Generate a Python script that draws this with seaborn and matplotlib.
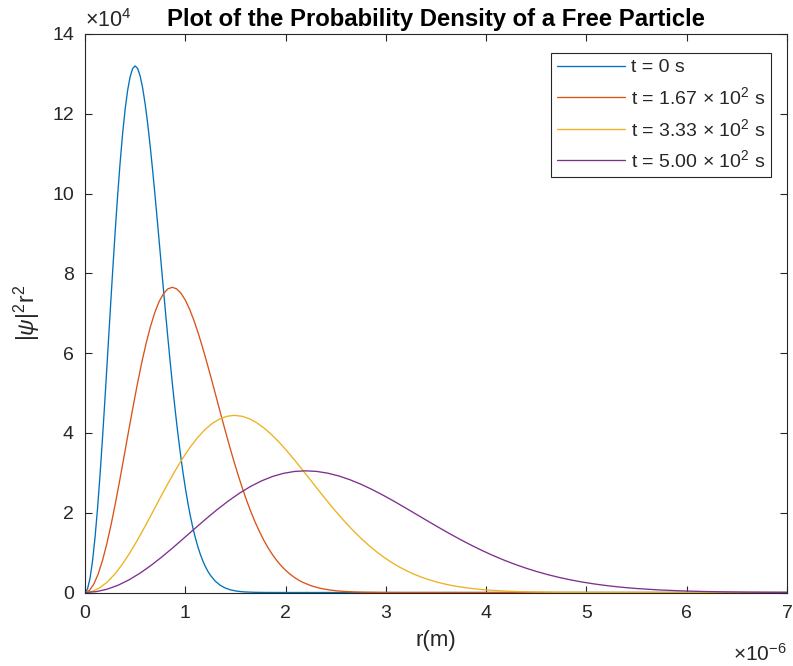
import matplotlib
matplotlib.use("Agg")
import matplotlib.pyplot as plt
import pandas as pd
import seaborn as sns

# Radial position r (units of 1e-6 m) and |psi|^2 r^2 (units of 1e4) at each time
r_t0 = [0.0, 0.025, 0.05, 0.075, 0.1, 0.125, 0.15, 0.175, 0.2, 0.225, 0.25,
        0.275, 0.3, 0.325, 0.35, 0.375, 0.4, 0.425, 0.45, 0.475, 0.5, 0.525,
        0.55, 0.575, 0.6, 0.625, 0.65, 0.675, 0.7, 0.725, 0.75, 0.775, 0.8,
        0.825, 0.85, 0.875, 0.9, 0.925, 0.95, 0.975, 1.0, 1.025, 1.05, 1.075,
        1.1, 1.125, 1.15, 1.175, 1.2, 1.225, 1.25, 1.3, 1.35, 1.4, 1.45, 1.5,
        1.55, 1.6, 1.7, 1.8, 2.0, 7.0]
p_t0 = [0.0, 0.0895, 0.3552, 0.7894, 1.3790, 2.1067, 2.9514, 3.8887, 4.8922,
        5.9340, 6.9861, 8.0208, 9.0121, 9.9358, 10.7711, 11.5001, 12.1088,
        12.5871, 12.9293, 13.1330, 13.2, 13.1352, 12.9467, 12.6447, 12.2418,
        11.7518, 11.1892, 10.5690, 9.9062, 9.2151, 8.5092, 7.8008, 7.1009,
        6.4190, 5.7631, 5.1395, 4.5530, 4.0071, 3.5041, 3.0446, 2.6288, 2.2555,
        1.9231, 1.6301, 1.3732, 1.1501, 0.9573, 0.7919, 0.6513, 0.5325, 0.4330,
        0.2812, 0.1787, 0.1108, 0.0672, 0.0399, 0.0231, 0.0131, 0.0040, 0.0011,
        0.0, 0.0]

r_t1 = [0.0, 0.0435, 0.087, 0.1305, 0.174, 0.2175, 0.261, 0.3045, 0.348,
        0.3915, 0.435, 0.4785, 0.522, 0.5655, 0.609, 0.6525, 0.696, 0.7395,
        0.783, 0.8265, 0.87, 0.9135, 0.957, 1.0005, 1.044, 1.0875, 1.131,
        1.1745, 1.218, 1.2615, 1.305, 1.3485, 1.392, 1.4355, 1.479, 1.5225,
        1.566, 1.6095, 1.653, 1.6965, 1.74, 1.7835, 1.827, 1.8705, 1.914,
        1.9575, 2.001, 2.0445, 2.088, 2.1315, 2.175, 2.262, 2.349, 2.436, 2.523,
        2.61, 2.697, 2.784, 2.958, 3.132, 4.0, 7.0]
p_t1 = [0.0, 0.0519, 0.2059, 0.4575, 0.7992, 1.2209, 1.7105, 2.2537, 2.8352,
        3.4390, 4.0488, 4.6484, 5.2229, 5.7583, 6.2423, 6.6648, 7.0176, 7.2948,
        7.4931, 7.6112, 7.65, 7.6125, 7.5032, 7.3282, 7.0947, 6.8107, 6.4846,
        6.1252, 5.7411, 5.3406, 4.9315, 4.5209, 4.1153, 3.7201, 3.3400, 2.9786,
        2.6387, 2.3223, 2.0308, 1.7645, 1.5235, 1.3072, 1.1146, 0.9447, 0.7958,
        0.6665, 0.5548, 0.4590, 0.3775, 0.3086, 0.2509, 0.1630, 0.1036, 0.0642,
        0.0389, 0.0231, 0.0134, 0.0076, 0.0023, 0.0006, 0.0, 0.0]

r_t2 = [0.0, 0.0745, 0.149, 0.2235, 0.298, 0.3725, 0.447, 0.5215, 0.596,
        0.6705, 0.745, 0.8195, 0.894, 0.9685, 1.043, 1.1175, 1.192, 1.2665,
        1.341, 1.4155, 1.49, 1.5645, 1.639, 1.7135, 1.788, 1.8625, 1.937,
        2.0115, 2.086, 2.1605, 2.235, 2.3095, 2.384, 2.4585, 2.533, 2.6075,
        2.682, 2.7565, 2.831, 2.9055, 2.98, 3.0545, 3.129, 3.2035, 3.278,
        3.3525, 3.427, 3.5015, 3.576, 3.6505, 3.725, 3.874, 4.023, 4.172, 4.321,
        4.47, 4.619, 4.768, 5.066, 5.364, 6.0, 7.0]
p_t2 = [0.0, 0.0301, 0.1195, 0.2655, 0.4638, 0.7086, 0.9927, 1.3080, 1.6455,
        1.9960, 2.3499, 2.6979, 3.0313, 3.3420, 3.6230, 3.8682, 4.0730, 4.2338,
        4.3490, 4.4175, 4.44, 4.4182, 4.3548, 4.2532, 4.1177, 3.9529, 3.7636,
        3.5550, 3.3321, 3.0996, 2.8622, 2.6239, 2.3885, 2.1591, 1.9385, 1.7287,
        1.5315, 1.3479, 1.1786, 1.0241, 0.8842, 0.7587, 0.6469, 0.5483, 0.4619,
        0.3869, 0.3220, 0.2664, 0.2191, 0.1791, 0.1456, 0.0946, 0.0601, 0.0373,
        0.0226, 0.0134, 0.0078, 0.0044, 0.0013, 0.0004, 0.0, 0.0]

r_t3 = [0.0, 0.11, 0.22, 0.33, 0.44, 0.55, 0.66, 0.77, 0.88, 0.99, 1.10, 1.21,
        1.32, 1.43, 1.54, 1.65, 1.76, 1.87, 1.98, 2.09, 2.20, 2.31, 2.42, 2.53,
        2.64, 2.75, 2.86, 2.97, 3.08, 3.19, 3.30, 3.41, 3.52, 3.63, 3.74, 3.85,
        3.96, 4.07, 4.18, 4.29, 4.40, 4.51, 4.62, 4.73, 4.84, 4.95, 5.06, 5.17,
        5.28, 5.39, 5.50, 5.72, 5.94, 6.16, 6.38, 6.60, 6.82, 7.04]
p_t3 = [0.0, 0.0207, 0.0821, 0.1824, 0.3186, 0.4868, 0.6819, 0.8985, 1.1304,
        1.3711, 1.6142, 1.8533, 2.0823, 2.2958, 2.4888, 2.6572, 2.7979, 2.9084,
        2.9875, 3.0345, 3.05, 3.0350, 2.9915, 2.9217, 2.8286, 2.7154, 2.5854,
        2.4421, 2.2889, 2.1292, 1.9661, 1.8025, 1.6407, 1.4832, 1.3316, 1.1875,
        1.0520, 0.9259, 0.8097, 0.7035, 0.6074, 0.5212, 0.4444, 0.3767, 0.3173,
        0.2657, 0.2212, 0.1830, 0.1505, 0.1230, 0.1000, 0.0650, 0.0413, 0.0256,
        0.0155, 0.0092, 0.0053, 0.0030]

labels = ["t = 0 s",
          r"t = 1.67 $\times$ 10$^{2}$ s",
          r"t = 3.33 $\times$ 10$^{2}$ s",
          r"t = 5.00 $\times$ 10$^{2}$ s"]
colors = ["#0072BD", "#D95319", "#EDB120", "#7E2F8E"]

x_ticks = [0, 1, 2, 3, 4, 5, 6, 7]
y_ticks = [0, 2, 4, 6, 8, 10, 12, 14]

frames = []
for lab, rr, pp in zip(labels, [r_t0, r_t1, r_t2, r_t3], [p_t0, p_t1, p_t2, p_t3]):
    frames.append(pd.DataFrame({"r": rr, "density": pp, "time": lab}))
df = pd.concat(frames, ignore_index=True)

sns.set_theme(style="white")
axis_col = "#262626"
plt.rcParams.update({
    "font.family": ["Liberation Sans", "DejaVu Sans"],
    "mathtext.fontset": "custom",
    "mathtext.rm": "Liberation Sans",
    "mathtext.it": "Liberation Sans:italic",
    "mathtext.bf": "Liberation Sans:bold",
    "axes.edgecolor": axis_col,
    "axes.linewidth": 0.8,
    "xtick.color": axis_col,
    "ytick.color": axis_col,
})

fig = plt.figure(figsize=(7.93, 6.66), dpi=100)
ax = fig.add_axes([85 / 793, (666 - 592.5) / 666, (787 - 85) / 793, (592.5 - 34) / 666])

sns.lineplot(data=df, x="r", y="density", hue="time", hue_order=labels,
             palette=colors, estimator=None, sort=False, linewidth=0.95, ax=ax)

ax.set_xlim(0, 7)
ax.set_ylim(0, 14)
ax.set_xticks(x_ticks)
ax.set_yticks(y_ticks)
ax.set_xticklabels([str(v) for v in x_ticks])
ax.set_yticklabels([str(v) for v in y_ticks])
ax.tick_params(direction="in", length=5, width=0.8, labelsize=14,
               top=True, right=True, bottom=True, left=True)
ax.tick_params(axis="y", pad=8)
ax.tick_params(axis="x", pad=9)
for s in ax.spines.values():
    s.set_visible(True)
    s.set_color(axis_col)

ax.set_xlabel("r(m)", fontsize=16, color=axis_col, labelpad=6)
ax.set_ylabel(r"$|\psi|^{2}\mathrm{r}^{2}$", fontsize=16.5, color=axis_col, labelpad=7)
ax.set_title("Plot of the Probability Density of a Free Particle",
             fontsize=17.2, fontweight="bold", color="black", pad=6)

ax.annotate(r"$\times$10$^{4}$", xy=(0, 1), xycoords="axes fraction",
            xytext=(0, 1.5), textcoords="offset points", ha="left", va="bottom",
            fontsize=15.5, color=axis_col)
ax.annotate(r"$\times$10$^{-6}$", xy=(1, 0), xycoords="axes fraction",
            xytext=(0, -49), textcoords="offset points", ha="right",
            va="baseline", fontsize=15, color=axis_col)

handles, labs = ax.get_legend_handles_labels()
leg = ax.legend(handles, labs, loc="upper right", bbox_to_anchor=(0.9772, 0.966),
                fontsize=14, frameon=True, fancybox=False, framealpha=1,
                edgecolor=axis_col, handlelength=3.5, handletextpad=0.3,
                labelspacing=0.5, borderpad=0.3, borderaxespad=0)
leg.get_frame().set_linewidth(0.8)

fig.savefig("out.png", dpi=100)
